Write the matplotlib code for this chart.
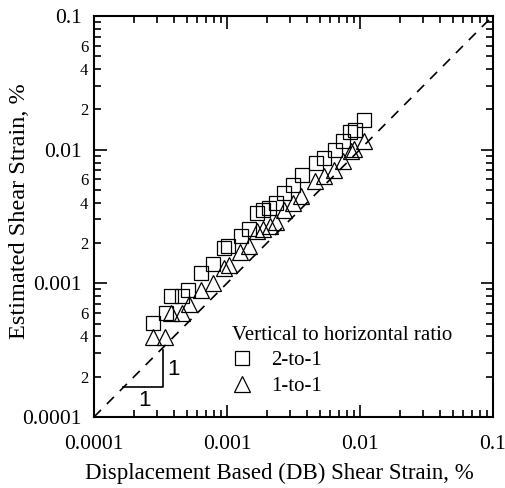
import numpy as np
import matplotlib.pyplot as plt
from matplotlib.ticker import LogLocator, FixedFormatter, FixedLocator, NullFormatter

plt.rcParams['font.family'] = ['Liberation Serif', 'DejaVu Serif']

# 2-to-1 (squares)
sq_x = [2.79e-4, 3.50e-4, 3.83e-4, 4.56e-4, 5.11e-4, 6.33e-4, 7.8e-4, 9.48e-4, 1.02e-3,
        1.27e-3, 1.46e-3, 1.67e-3, 1.87e-3, 2.08e-3, 2.32e-3, 2.69e-3, 3.15e-3, 3.67e-3,
        4.71e-3, 5.38e-3, 6.47e-3, 7.47e-3, 8.38e-3, 9.14e-3, 1.07e-2]
sq_y = [5.04e-4, 6.0e-4, 8.0e-4, 8.0e-4, 8.97e-4, 1.19e-3, 1.40e-3, 1.84e-3, 1.89e-3,
        2.25e-3, 2.55e-3, 3.36e-3, 3.52e-3, 3.65e-3, 3.99e-3, 4.74e-3, 5.47e-3, 6.5e-3,
        7.94e-3, 8.67e-3, 1.0e-2, 1.15e-2, 1.35e-2, 1.41e-2, 1.65e-2]

# 1-to-1 (triangles)
tr_x = [2.76e-4, 3.45e-4, 3.78e-4, 4.56e-4, 5.17e-4, 6.33e-4, 7.8e-4, 9.48e-4, 1.03e-3,
        1.26e-3, 1.46e-3, 1.67e-3, 1.87e-3, 2.1e-3, 2.33e-3, 2.69e-3, 3.15e-3, 3.63e-3,
        4.62e-3, 5.38e-3, 6.4e-3, 7.4e-3, 8.5e-3, 9.1e-3, 1.08e-2]
tr_y = [3.97e-4, 3.97e-4, 6.0e-4, 6.0e-4, 7.05e-4, 8.97e-4, 1.0e-3, 1.30e-3, 1.38e-3,
        1.71e-3, 1.89e-3, 2.48e-3, 2.55e-3, 2.67e-3, 2.86e-3, 3.56e-3, 3.99e-3, 4.48e-3,
        5.8e-3, 6.3e-3, 7.08e-3, 8.28e-3, 9.72e-3, 1.01e-2, 1.15e-2]

major = [0.0001, 0.001, 0.01, 0.1]
major_labels = ['0.0001', '0.001', '0.01', '0.1']

fig = plt.figure(figsize=(5.05, 4.88), dpi=100)
ax = fig.add_axes([0.186, 0.1455, 0.790, 0.822])

ax.plot([1e-4, 0.1], [1e-4, 0.1], '--', color='black', lw=1.2, dashes=(6, 5))
ax.plot(sq_x, sq_y, 's', ms=10, mfc='none', mec='black', mew=0.9, linestyle='none', label='2-to-1')
ax.plot(tr_x, tr_y, '^', ms=11, mfc='none', mec='black', mew=0.9, linestyle='none', label='1-to-1')

# slope triangle
ax.plot([1.66e-4, 3.32e-4, 3.32e-4], [1.69e-4, 1.69e-4, 3.19e-4], color='black', lw=1.2)
ax.text(2.4e-4, 1.34e-4, '1', family='Liberation Sans', fontsize=16, ha='center', va='center')
ax.text(3.95e-4, 2.25e-4, '1', family='Liberation Sans', fontsize=16, ha='center', va='center')

ax.set_xscale('log')
ax.set_yscale('log')
ax.set_xlim(1e-4, 0.1)
ax.set_ylim(1e-4, 0.1)

ax.xaxis.set_major_locator(FixedLocator(major))
ax.xaxis.set_major_formatter(FixedFormatter(major_labels))
ax.xaxis.set_minor_locator(LogLocator(base=10, subs=np.arange(2, 10)))
ax.xaxis.set_minor_formatter(NullFormatter())

ax.yaxis.set_major_locator(FixedLocator(major))
ax.yaxis.set_major_formatter(FixedFormatter(major_labels))
ax.yaxis.set_minor_locator(LogLocator(base=10, subs=np.arange(2, 10)))


def minor_fmt(v, pos):
    m = round(v / 10 ** np.floor(np.log10(v) + 1e-9))
    return str(m) if m in (2, 4, 6) else ''


ax.yaxis.set_minor_formatter(plt.FuncFormatter(minor_fmt))

ax.tick_params(which='both', direction='in', top=True, right=True, width=1.2)
ax.tick_params(which='major', length=9, labelsize=15.5)
ax.tick_params(which='minor', length=5, labelsize=12, pad=4)
ax.tick_params(axis='x', which='major', pad=13)
ax.tick_params(axis='y', which='major', pad=9)
for s in ax.spines.values():
    s.set_linewidth(1.5)

ax.set_xlabel('Displacement Based (DB) Shear Strain, %', fontsize=16.5)
ax.set_ylabel('Estimated Shear Strain, %', fontsize=17.5)
ax.xaxis.set_label_coords(0.464, -0.115)
ax.yaxis.set_label_coords(-0.16, 0.514)

leg = ax.legend(loc='upper left', bbox_to_anchor=(0.345, 0.228), title='Vertical to horizontal ratio',
                frameon=False, fontsize=15, title_fontsize=15, handletextpad=0.9, handlelength=1.0,
                borderaxespad=0, borderpad=0, labelspacing=0.3)
leg._legend_box.align = 'left'

fig.savefig('out.png', dpi=100)
